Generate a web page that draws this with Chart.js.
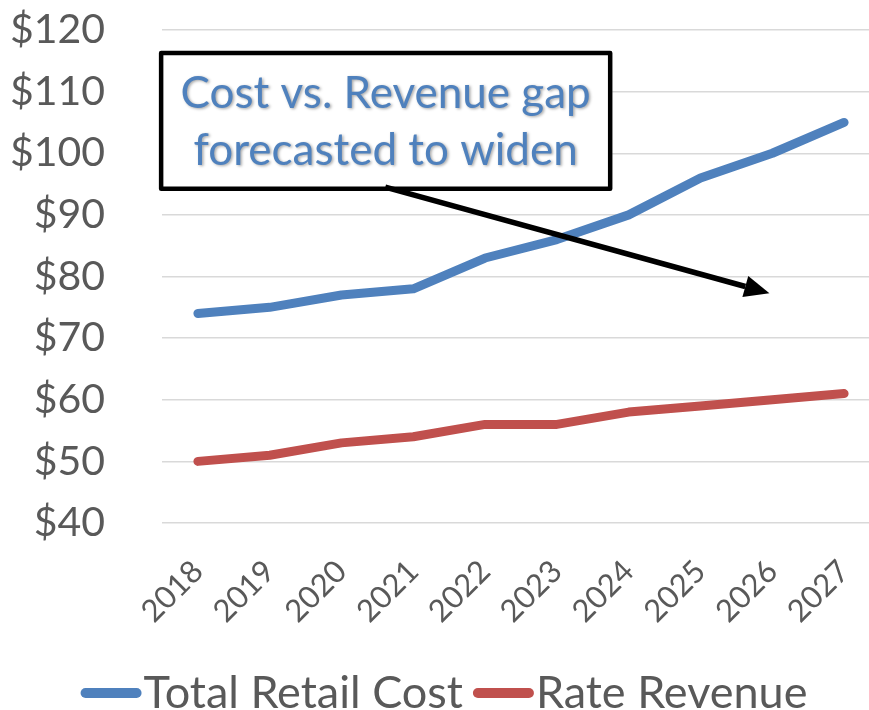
<!DOCTYPE html>
<html>
<head>
<meta charset="utf-8">
<script src="https://cdn.jsdelivr.net/npm/chart.js@4.4.0/dist/chart.umd.min.js"></script>
<style>
  html, body { margin: 0; padding: 0; background: #fff; overflow: hidden; }
</style>
</head>
<body>
<canvas id="gapChart" width="880" height="710"></canvas>
<script>
const years = ["2018", "2019", "2020", "2021", "2022", "2023", "2024", "2025", "2026", "2027"];
const totalRetailCost = [74, 75, 77, 78, 83, 86, 90, 96, 100, 105];
const rateRevenue = [50, 51, 53, 54, 56, 56, 58, 59, 60, 61];
const yMin = 40;
const yMax = 120;
const yStep = 10;
const calloutLines = ["Cost vs. Revenue gap", "forecasted to widen"];

const FONT = "Lato, 'Open Sans', sans-serif";
const TEXT_GREY = "#595959";
const BLUE = "#4f81bd";
const RED = "#c0504d";

// Callout box + arrow, placed in data space (category index, $ value)
const calloutPlugin = {
  id: "callout",
  afterDatasetsDraw(chart) {
    const { ctx, scales } = chart;
    const x = scales.x;
    const y = scales.y;
    const left = x.getPixelForValue(-0.54);
    const right = x.getPixelForValue(5.77);
    const top = y.getPixelForValue(116.6);
    const bottom = y.getPixelForValue(93.9);

    ctx.save();
    // box
    ctx.fillStyle = "#fff";
    ctx.fillRect(left, top, right - left, bottom - top);
    ctx.lineWidth = 4.5;
    ctx.strokeStyle = "#000";
    ctx.lineJoin = "round";
    ctx.strokeRect(left + 2, top + 2, right - left - 4, bottom - top - 4);

    // text
    ctx.font = `44px ${FONT}`;
    ctx.fillStyle = BLUE;
    ctx.textAlign = "center";
    ctx.textBaseline = "alphabetic";
    ctx.shadowColor = "rgba(0,0,0,0.35)";
    ctx.shadowBlur = 3;
    ctx.shadowOffsetX = 1.5;
    ctx.shadowOffsetY = 1.5;
    const cx = (left + right) / 2;
    ctx.fillText(calloutLines[0], cx, top + 57);
    ctx.fillText(calloutLines[1], cx, top + 114);
    ctx.restore();

    // arrow
    const x0 = x.getPixelForValue(2.61);
    const y0 = y.getPixelForValue(94.5);
    const x1 = x.getPixelForValue(7.96);
    const y1 = y.getPixelForValue(77.3);
    const ang = Math.atan2(y1 - y0, x1 - x0);
    const headLen = 25;
    const headHalf = 11;
    const bx = x1 - Math.cos(ang) * headLen;
    const by = y1 - Math.sin(ang) * headLen;

    ctx.save();
    ctx.strokeStyle = "#000";
    ctx.fillStyle = "#000";
    ctx.lineWidth = 5.5;
    ctx.beginPath();
    ctx.moveTo(x0, y0);
    ctx.lineTo(bx, by);
    ctx.stroke();
    ctx.beginPath();
    ctx.moveTo(x1, y1);
    ctx.lineTo(bx + Math.sin(ang) * headHalf, by - Math.cos(ang) * headHalf);
    ctx.lineTo(bx - Math.sin(ang) * headHalf, by + Math.cos(ang) * headHalf);
    ctx.closePath();
    ctx.fill();
    ctx.restore();
  },
};

// Bottom legend: line sample directly followed by label
const legendPlugin = {
  id: "bottomLegend",
  afterDraw(chart) {
    const { ctx } = chart;
    const sets = chart.data.datasets;
    const sampleW = 61;
    const textGap = 2;
    const itemGap = 10;
    const cy = 693;

    ctx.save();
    ctx.font = `45px ${FONT}`;
    const widths = sets.map((ds) => ctx.measureText(ds.label).width);
    let total = 0;
    widths.forEach((w, i) => {
      total += sampleW + textGap + w + (i > 0 ? itemGap : 0);
    });
    let xPos = chart.width / 2 + 4 - total / 2;

    sets.forEach((ds, i) => {
      if (i > 0) xPos += itemGap;
      ctx.strokeStyle = ds.borderColor;
      ctx.lineWidth = 10;
      ctx.lineCap = "round";
      ctx.beginPath();
      ctx.moveTo(xPos + 5, cy);
      ctx.lineTo(xPos + sampleW - 5, cy);
      ctx.stroke();
      xPos += sampleW + textGap;
      ctx.fillStyle = TEXT_GREY;
      ctx.textAlign = "left";
      ctx.textBaseline = "middle";
      ctx.fillText(ds.label, xPos, cy);
      xPos += widths[i];
    });
    ctx.restore();
  },
};

new Chart(document.getElementById("gapChart"), {
  type: "line",
  data: {
    labels: years,
    datasets: [
      {
        label: "Total Retail Cost",
        data: totalRetailCost,
        borderColor: BLUE,
        backgroundColor: BLUE,
      },
      {
        label: "Rate Revenue",
        data: rateRevenue,
        borderColor: RED,
        backgroundColor: RED,
      },
    ],
  },
  options: {
    responsive: false,
    animation: false,
    layout: { padding: { top: 30, right: 0, bottom: 67, left: 0 } },
    elements: {
      line: {
        borderWidth: 9,
        tension: 0,
        borderCapStyle: "round",
        borderJoinStyle: "round",
      },
      point: { radius: 0 },
    },
    plugins: {
      legend: { display: false },
      tooltip: { enabled: false },
    },
    scales: {
      x: {
        offset: true,
        grid: { display: false },
        border: { display: false },
        afterFit: (scale) => {
          scale.height = 120;
          scale.paddingLeft = 0;
          scale.paddingRight = 0;
        },
        ticks: {
          color: TEXT_GREY,
          font: { family: FONT, size: 31 },
          minRotation: 45,
          maxRotation: 45,
          padding: 22,
          autoSkip: false,
        },
      },
      y: {
        min: yMin,
        max: yMax,
        grid: {
          color: "#d9d9d9",
          lineWidth: 1.5,
          drawTicks: true,
          tickLength: 57,
          tickColor: "transparent",
        },
        border: { display: false },
        afterFit: (scale) => {
          scale.width = 162;
        },
        ticks: {
          stepSize: yStep,
          color: TEXT_GREY,
          font: { family: FONT, size: 41 },
          padding: 0,
          callback: (v) => "$" + v,
        },
      },
    },
  },
  plugins: [calloutPlugin, legendPlugin],
});
</script>
</body>
</html>
